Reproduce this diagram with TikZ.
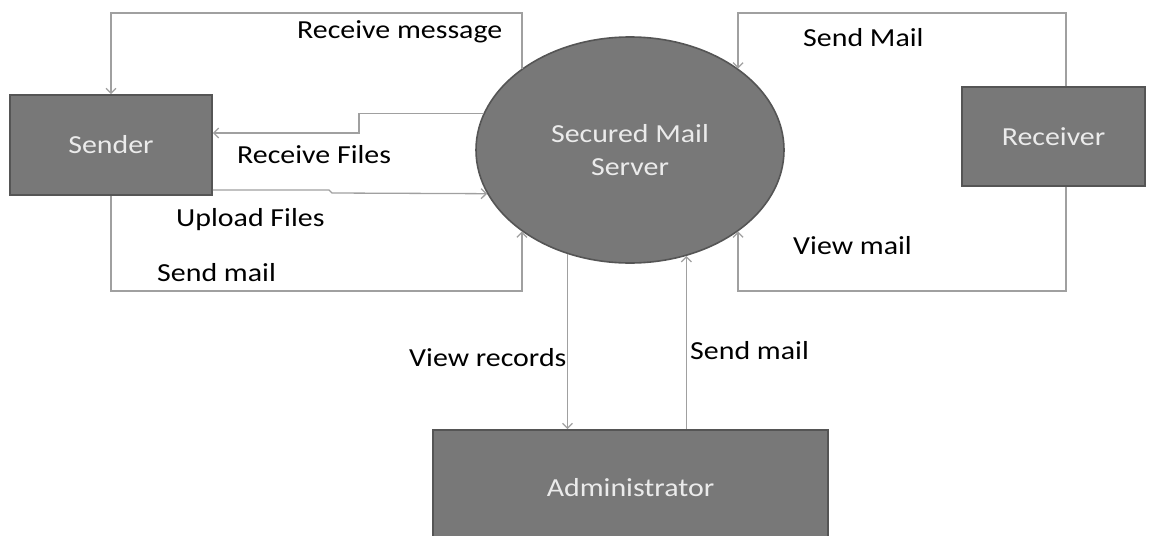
\documentclass[tikz,border=0pt]{standalone}
\usepackage{fontspec}
\setmainfont{Carlito}
\usetikzlibrary{shapes.geometric,arrows.meta}
\definecolor{boxfill}{RGB}{120,120,120}
\definecolor{boxline}{RGB}{85,85,85}
\definecolor{boxtext}{RGB}{235,235,235}
\definecolor{wire}{RGB}{160,160,160}
\newcommand{\wide}[1]{\scalebox{1.15}[1]{#1}}
\begin{document}
\begin{tikzpicture}[x=1pt,y=-1pt,
  every node/.style={font=\fontsize{26}{32}\selectfont},
  entity/.style={draw=boxline,line width=1.6pt,fill=boxfill,text=boxtext,rectangle,inner sep=0pt},
  proc/.style={draw=boxline,line width=1.6pt,fill=boxfill,text=boxtext,ellipse,inner sep=0pt,align=center},
  conn/.style={draw=wire,line width=1.3pt,-{Straight Barb[length=5pt,width=10pt]}},
  lbl/.style={text=black,inner sep=0pt,anchor=base west}]
\clip (0,0) rectangle (1155,535);
\fill[white] (0,0) rectangle (1155,535);

\node[entity,minimum width=202pt,minimum height=100pt] (snd) at (111,145) {\wide{Sender}};
\node[entity,minimum width=183pt,minimum height=99pt] (rcv) at (1053.5,136.5) {\wide{Receiver}};
\node[entity,minimum width=395pt,minimum height=115pt] (adm) at (630.5,487.5) {\wide{Administrator}};
\node[proc,minimum width=308pt,minimum height=226pt] (srv) at (630,150) {\wide{Secured Mail}\\[1pt]\wide{Server}};

% Receive message
\draw[conn] (srv.143) -- (srv.143 |- 0,13) -| (snd.north);
% Receive Files
\draw[conn] (srv.166) -| (359,133) -- (snd.east |- 0,133);
% Upload Files
\draw[conn] (snd.east |- 0,190) -- (329,190) -- (332,193) -- (srv.197);
% Send mail (sender)
\draw[conn] (snd.south) |- (srv.217 |- 0,291) -- (srv.217);
% Send Mail (receiver)
\draw[conn] (rcv.north -| 1066,0) |- (srv.37 |- 0,13) -- (srv.37);
% View mail
\draw[conn] (rcv.south -| 1066,0) |- (srv.323 |- 0,291) -- (srv.323);
% View records
\draw[conn] (srv.239) -- (srv.239 |- adm.north);
% Send mail (admin)
\draw[conn] (adm.north -| srv.298) -- (srv.298);

\node[lbl] (l1) at (297,38) {\wide{Receive message}};
\node[lbl] (l2) at (237,163) {\wide{Receive Files}};
\node[lbl] (l3) at (176,226) {\wide{Upload Files}};
\node[lbl] (l4) at (157,281) {\wide{Send mail}};
\node[lbl] (l5) at (803,47) {\wide{Send Mail}};
\node[lbl] (l6) at (793,254) {\wide{View mail}};
\node[lbl] (l7) at (409,366) {\wide{View records}};
\node[lbl] (l8) at (690,359) {\wide{Send mail}};
\end{tikzpicture}
\end{document}
